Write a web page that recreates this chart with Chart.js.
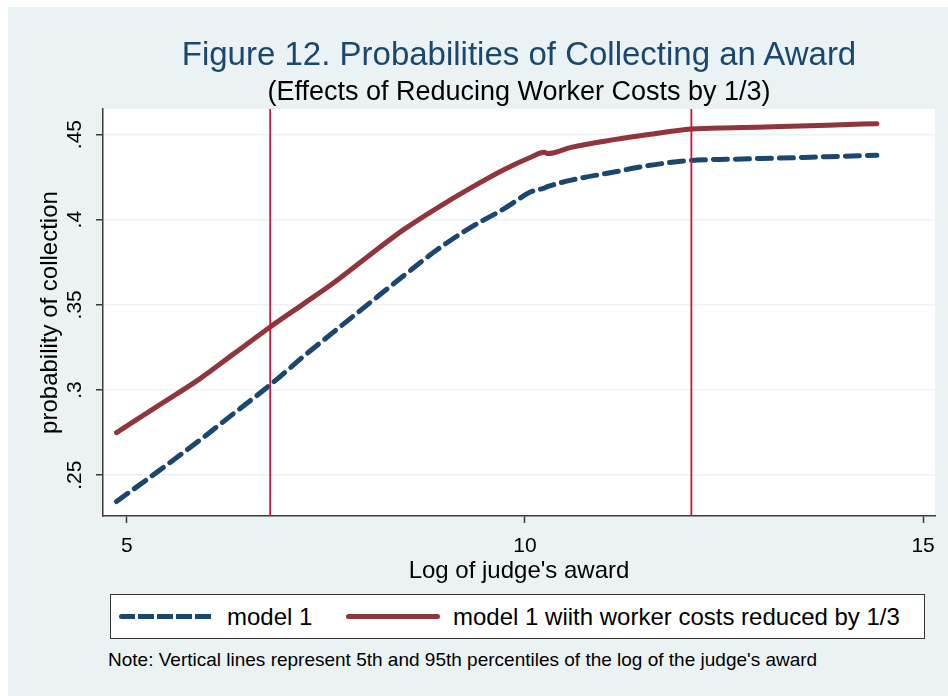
<!DOCTYPE html>
<html>
<head>
<meta charset="utf-8">
<script src="https://cdn.jsdelivr.net/npm/chart.js@4.4.1/dist/chart.umd.min.js"></script>
<style>
  body { margin: 0; background: #ffffff; font-family: "Liberation Sans", Arial, sans-serif; }
  #frame { position: absolute; left: 8px; top: 7px; width: 940px; height: 689px; background: #eaf2f3; overflow: hidden; }
  #title { position: absolute; left: 95px; width: 832px; top: 27px; text-align: center; font-size: 33px; line-height: 40px; color: #1a476f; }
  #subtitle { position: absolute; left: 95px; width: 832px; top: 69px; text-align: center; font-size: 27px; line-height: 30px; color: #000; }
  #plot { position: absolute; left: 0; top: 0; width: 940px; height: 590px; }
  #legend { position: absolute; left: 102px; top: 587px; width: 813px; height: 43px; background: #fff; border: 1px solid #333; }
  .item { position: absolute; top: 0; height: 43px; line-height: 43px; font-size: 24px; color: #000; white-space: nowrap; }
  .sample { position: absolute; top: 19px; height: 5px; width: 94px; border-radius: 3px; }
  #note { position: absolute; left: 100px; top: 642px; font-size: 19px; line-height: 22px; color: #000; white-space: nowrap; }
</style>
</head>
<body>
<div id="frame">
  <div id="plot"><canvas id="chart"></canvas></div>
  <div id="title">Figure 12. Probabilities of Collecting an Award</div>
  <div id="subtitle">(Effects of Reducing Worker Costs by 1/3)</div>
  <div id="legend"></div>
  <div id="note">Note: Vertical lines represent 5th and 95th percentiles of the log of the judge's award</div>
</div>
<script>
// Valores
const awardLog = [4.87, 5.4, 5.92, 6.35, 6.8, 7.2, 7.59, 8.06, 8.48, 8.9, 9.32, 9.74, 10.08, 10.24, 10.29, 10.58, 11.12, 11.55, 12.09, 12.6, 13.22, 13.8, 14.42];
const model1 = [0.2345, 0.2525, 0.2707, 0.2865, 0.303, 0.319, 0.3338, 0.3515, 0.3672, 0.3825, 0.3955, 0.4065, 0.4165, 0.4185, 0.4195, 0.4232, 0.428, 0.4318, 0.4348, 0.4355, 0.4362, 0.437, 0.4379];
const model1Reduced = [0.275, 0.291, 0.3067, 0.3215, 0.337, 0.350, 0.3627, 0.3796, 0.3943, 0.407, 0.4187, 0.4295, 0.4368, 0.4396, 0.4388, 0.4425, 0.447, 0.450, 0.4533, 0.454, 0.4547, 0.4555, 0.4564];
const percentiles = [6.80, 12.09];   // 5th y 95th
const seriesNames = ['model 1', 'model 1 wiith worker costs reduced by 1/3'];
const xTicks = [5, 10, 15];
const yTicks = [0.25, 0.3, 0.35, 0.4, 0.45];
const yTickLabels = ['.25', '.3', '.35', '.4', '.45'];

const X_MIN = 4.70, X_MAX = 15.15;
const Y_MIN = 0.226, Y_MAX = 0.465;

const NAVY = '#1a476f';
const MAROON = '#90353b';
const VLINE = '#cf1438';
const AXIS = '#3a3a3a';

function toPoints(xs, ys) {
    return xs.map((x, i) => ({ x: x, y: ys[i] }));
}

// Fondo blanco del área de trazado
const plotBackground = {
    id: 'plotBackground',
    beforeDraw(chart) {
        const { ctx, chartArea } = chart;
        ctx.save();
        ctx.fillStyle = '#ffffff';
        ctx.fillRect(chartArea.left, chartArea.top, chartArea.right - chartArea.left, chartArea.bottom - chartArea.top);
        ctx.restore();
    }
};

// Etiquetas del eje y giradas (estilo Stata)
const rotatedYLabels = {
    id: 'rotatedYLabels',
    afterDraw(chart) {
        const { ctx } = chart;
        const scale = chart.scales.y;
        ctx.save();
        ctx.fillStyle = '#000';
        ctx.font = '21px "Liberation Sans", Arial, sans-serif';
        ctx.textAlign = 'center';
        ctx.textBaseline = 'middle';
        scale.ticks.forEach(t => {
            const y = scale.getPixelForValue(t.value);
            ctx.save();
            ctx.translate(67, y);
            ctx.rotate(-Math.PI / 2);
            ctx.fillText(t.label, 0, 0);
            ctx.restore();
        });
        ctx.restore();
    }
};

const datasets = [
    {
        label: seriesNames[0],
        data: toPoints(awardLog, model1),
        borderColor: NAVY,
        borderWidth: 5,
        borderDash: [14, 8],
        borderCapStyle: 'round',
        pointRadius: 0,
        cubicInterpolationMode: 'monotone',
        order: 3
    },
    {
        label: seriesNames[1],
        data: toPoints(awardLog, model1Reduced),
        borderColor: MAROON,
        borderWidth: 5,
        borderCapStyle: 'round',
        pointRadius: 0,
        cubicInterpolationMode: 'monotone',
        order: 2
    }
];
percentiles.forEach(p => {
    datasets.push({
        label: 'p' + p,
        data: [{ x: p, y: Y_MIN }, { x: p, y: Y_MAX }],
        borderColor: VLINE,
        borderWidth: 1.8,
        pointRadius: 0,
        order: 1
    });
});

new Chart(document.getElementById('chart'), {
    type: 'line',
    data: { datasets: datasets },
    options: {
        responsive: true,
        maintainAspectRatio: false,
        animation: false,
        layout: { padding: { top: 102, right: 13, left: 0, bottom: 1 } },
        plugins: {
            legend: { display: false },
            tooltip: { enabled: false },
            title: { display: false }
        },
        scales: {
            x: {
                type: 'linear',
                min: X_MIN,
                max: X_MAX,
                afterBuildTicks: s => { s.ticks = xTicks.map(v => ({ value: v })); },
                afterFit: s => { s.height = 80; },
                grid: { drawOnChartArea: false, tickColor: AXIS, tickLength: 7, tickWidth: 1.5 },
                border: { display: true, color: AXIS, width: 1.5 },
                ticks: {
                    color: '#000',
                    padding: 11,
                    font: { family: '"Liberation Sans", Arial, sans-serif', size: 21 },
                    callback: v => String(v)
                },
                title: {
                    display: true,
                    text: "Log of judge's award",
                    color: '#000',
                    font: { family: '"Liberation Sans", Arial, sans-serif', size: 24 },
                    padding: { top: 0, bottom: 10 }
                }
            },
            y: {
                type: 'linear',
                min: Y_MIN,
                max: Y_MAX,
                afterBuildTicks: s => { s.ticks = yTicks.map(v => ({ value: v })); },
                afterFit: s => { s.width = 95; },
                grid: { color: '#eaf2f3', lineWidth: 1.5, tickColor: AXIS, tickLength: 7, tickWidth: 1.5 },
                border: { display: true, color: AXIS, width: 1.5 },
                ticks: {
                    display: false,
                    callback: (v, i) => yTickLabels[i]
                },
                title: {
                    display: true,
                    text: 'probability of collection',
                    color: '#000',
                    font: { family: '"Liberation Sans", Arial, sans-serif', size: 24 },
                    padding: { top: 28, bottom: 0 }
                }
            }
        }
    },
    plugins: [plotBackground, rotatedYLabels]
});

// Leyenda en HTML
const legend = document.getElementById('legend');
const legendItems = [
    { left: 8, textLeft: 116, color: NAVY, dashed: true },
    { left: 235, textLeft: 342, color: MAROON, dashed: false }
];
legendItems.forEach((it, i) => {
    const s = document.createElement('div');
    s.className = 'sample';
    s.style.left = it.left + 'px';
    if (it.dashed) {
        s.style.background = `repeating-linear-gradient(90deg, ${it.color} 0 16px, transparent 16px 19px)`;
    } else {
        s.style.background = it.color;
    }
    legend.appendChild(s);
    const t = document.createElement('div');
    t.className = 'item';
    t.style.left = it.textLeft + 'px';
    t.textContent = seriesNames[i];
    legend.appendChild(t);
});
</script>
</body>
</html>
